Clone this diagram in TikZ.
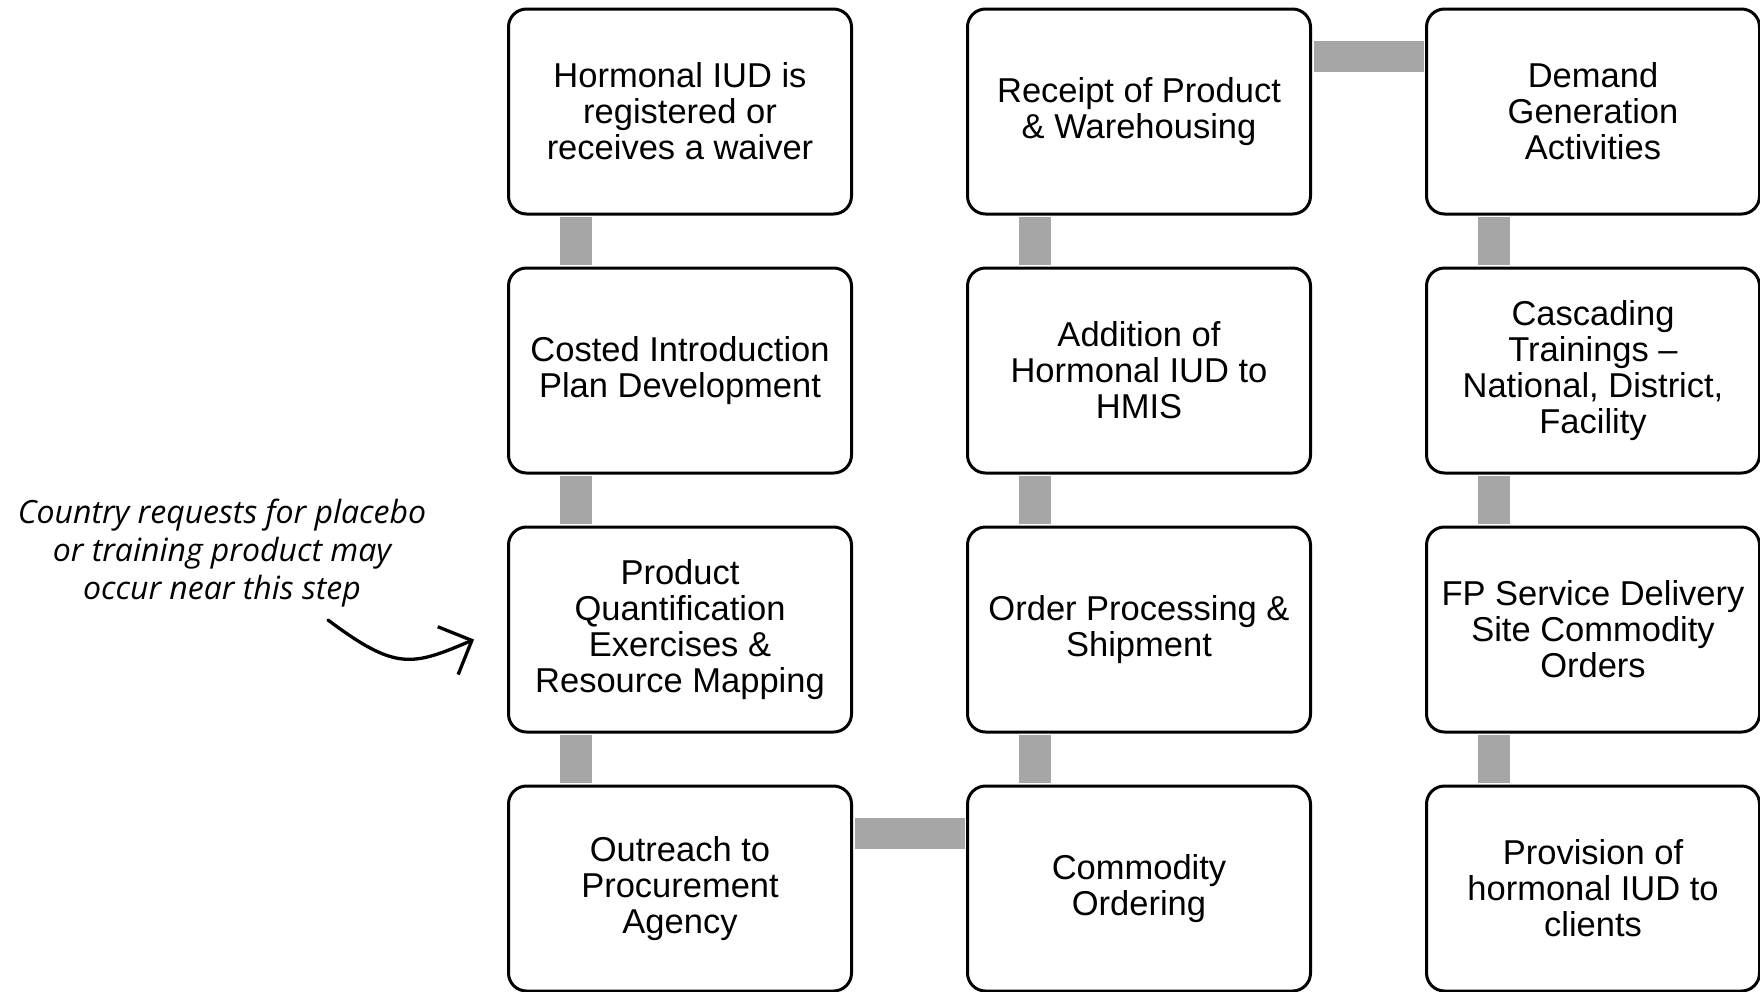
\documentclass[tikz,border=0pt]{standalone}
\usepackage{fontspec}
\setmainfont{Liberation Sans}
\newfontfamily\notefont{Open Sans}
\usepackage{xcolor}
\usepackage{tikz}
\usetikzlibrary{arrows.meta,positioning,calc}
\definecolor{linkgray}{RGB}{166,166,166}

\begin{document}
\begin{tikzpicture}[x=1pt, y=-1pt,
  stage/.style={draw, line width=3pt, rounded corners=18pt, fill=white,
    minimum width=343pt, minimum height=205pt, align=center, inner sep=4pt,
    font=\fontsize{34.5}{36}\selectfont},
  link/.style={linkgray, line width=32pt, shorten <=1.5pt, shorten >=1.5pt},
  note/.style={align=center, font=\notefont\itshape\fontsize{32}{38}\selectfont}]
\useasboundingbox (0,0) rectangle (1760,991);
% first column
\node[stage] (reg)      at (680,111.5) {Hormonal IUD is\\registered or\\receives a waiver};
\node[stage] (plan)     at (680,370.5) {Costed Introduction\\Plan Development};
\node[stage] (quant)    at (680,629.5) {Product\\Quantification\\Exercises \&\\Resource Mapping};
\node[stage] (outreach) at (680,888.5) {Outreach to\\Procurement\\Agency};
% second column
\node[stage] (receipt)  at (1139,111.5) {Receipt of Product\\\& Warehousing};
\node[stage] (hmis)     at (1139,370.5) {Addition of\\Hormonal IUD to\\HMIS};
\node[stage] (ship)     at (1139,629.5) {Order Processing \&\\Shipment};
\node[stage] (order)    at (1139,888.5) {Commodity\\Ordering};
% third column
\node[stage, minimum width=333pt] (demand)  at (1593,111.5) {Demand\\Generation\\Activities};
\node[stage, minimum width=333pt] (train)   at (1593,370.5) {Cascading\\Trainings –\\National, District,\\Facility};
\node[stage, minimum width=333pt] (sdp)     at (1593,629.5) {FP Service Delivery\\Site Commodity\\Orders};
\node[stage, minimum width=333pt] (provide) at (1593,888.5) {Provision of\\hormonal IUD to\\clients};

\foreach \a/\b in {reg/plan,plan/quant,quant/outreach,receipt/hmis,hmis/ship,ship/order,demand/train,train/sdp,sdp/provide}
  \draw[link] ([xshift=68.5pt]\a.south west) -- ([xshift=68.5pt]\b.north west);
\draw[link, line width=31pt] ([yshift=-49pt]outreach.north east) -- ([yshift=-49pt]order.north west);
\draw[link, line width=31pt] ([yshift=-49pt]receipt.north east) -- ([yshift=-49pt]demand.north west);

% side remark with hand-drawn arrow
\node[note] (remark) at (222,553) {Country requests for placebo\\or training product may\\occur near this step};
\coordinate (tail) at (328,620);
\coordinate (tip) at ($(quant.west)+(-33,10)$);
\draw[line width=3.3pt, line cap=round, -{Straight Barb[length=26pt,width=52pt]}]
  (tail) .. controls (396,671) and (412,666) .. (tip);
\end{tikzpicture}
\end{document}
